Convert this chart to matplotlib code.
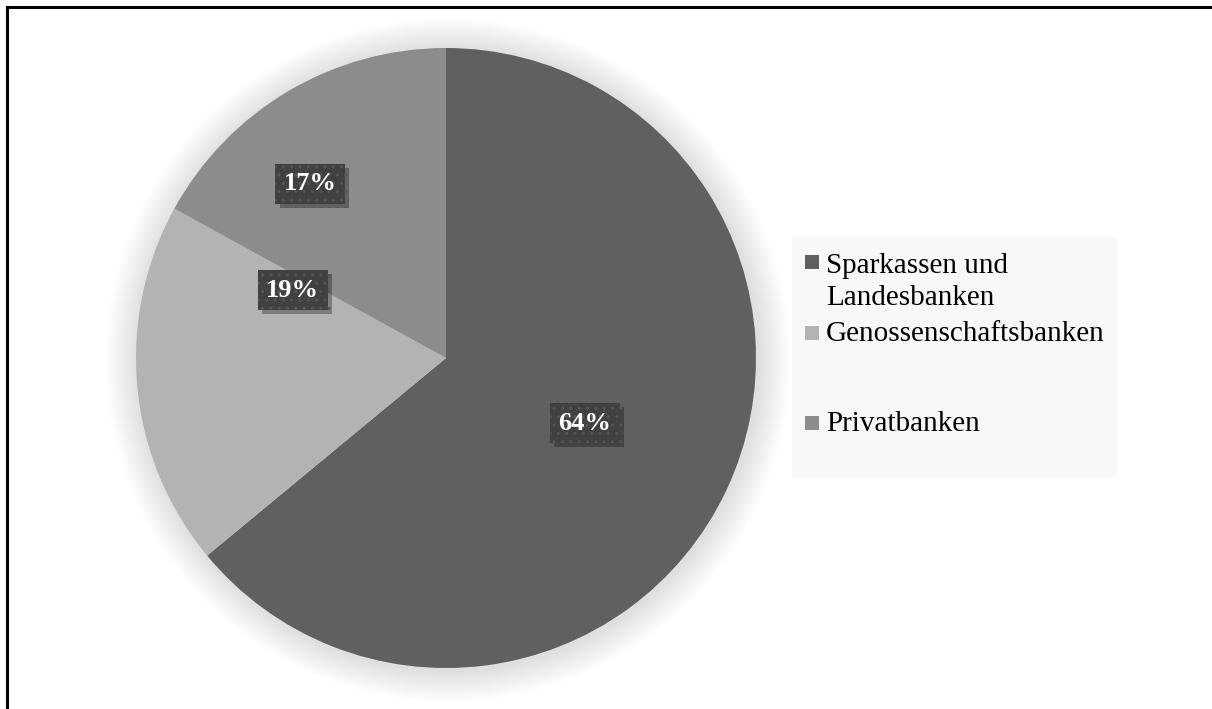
import matplotlib.pyplot as plt
import matplotlib.patheffects as pe
from matplotlib.patches import Circle, Rectangle
from matplotlib.lines import Line2D

# --- données ---
categories = ["Sparkassen und\nLandesbanken", "Genossenschaftsbanken", "Privatbanken"]
parts = [64, 19, 17]
couleurs = ["#606060", "#b3b3b3", "#8c8c8c"]
etiquettes = ["64%", "19%", "17%"]
# positions des étiquettes (en rayon du camembert)
pos_etiquettes = [(0.448, -0.210), (-0.494, 0.219), (-0.438, 0.562)]

plt.rcParams['font.family'] = ['Liberation Serif', 'DejaVu Serif']

W, H = 1212, 709
fig = plt.figure(figsize=(W / 100, H / 100), dpi=100)

# cadre (gauche + haut)
fig.add_artist(Line2D([7 / W, 7 / W], [0, 1 - 7 / H], color='black', lw=2.2,
                      transform=fig.transFigure))
fig.add_artist(Line2D([7 / W, 1], [1 - 7 / H, 1 - 7 / H], color='black', lw=2.2,
                      transform=fig.transFigure))

# axe du camembert : centre (446, 358) px, rayon 310 px
cx, cy, r = 446, 358, 310
ax = fig.add_axes([(cx - r) / W, (H - cy - r) / H, 2 * r / W, 2 * r / H])

# halo doux autour du camembert
for i in range(16):
    rr = 1.0 + 0.0065 * (16 - i)
    ax.add_patch(Circle((0.006, -0.006), rr, color='black', alpha=0.008,
                        lw=0, clip_on=False, zorder=0))

ax.pie(parts, colors=couleurs, startangle=90, counterclock=False,
       wedgeprops=dict(linewidth=0), radius=1.0)
ax.set_xlim(-1, 1)
ax.set_ylim(-1, 1)
ax.set_aspect('equal')
ax.axis('off')

for txt, (x, y) in zip(etiquettes, pos_etiquettes):
    t = ax.text(x, y, txt, ha='center', va='center', color='white',
                fontsize=19, fontweight='bold', zorder=5,
                bbox=dict(boxstyle='square,pad=0.32', facecolor='#414141',
                          edgecolor='#555555', linewidth=0, hatch='..'))
    t.get_bbox_patch().set_path_effects(
        [pe.withSimplePatchShadow(offset=(3, -3), shadow_rgbFace='black', alpha=0.3)])

# légende dessinée à la main
fig.add_artist(Rectangle((792 / W, (H - 478) / H), (1117 - 792) / W, (478 - 237) / H,
                         facecolor='#f8f8f8', edgecolor='none',
                         transform=fig.transFigure, zorder=1))
legende_y = [282, 334, 424]
carre_y = [262, 333, 423]
for cat, col, ly, sy in zip(categories, couleurs, legende_y, carre_y):
    fig.add_artist(Rectangle((805 / W, (H - sy - 7) / H), 14 / W, 14 / H,
                             facecolor=col, edgecolor='none',
                             transform=fig.transFigure, zorder=2))
    fig.text(826 / W, (H - ly) / H, cat, fontsize=21, va='center',
             ha='left', color='black', linespacing=1.3, zorder=3)

fig.savefig("out.png", dpi=100)
